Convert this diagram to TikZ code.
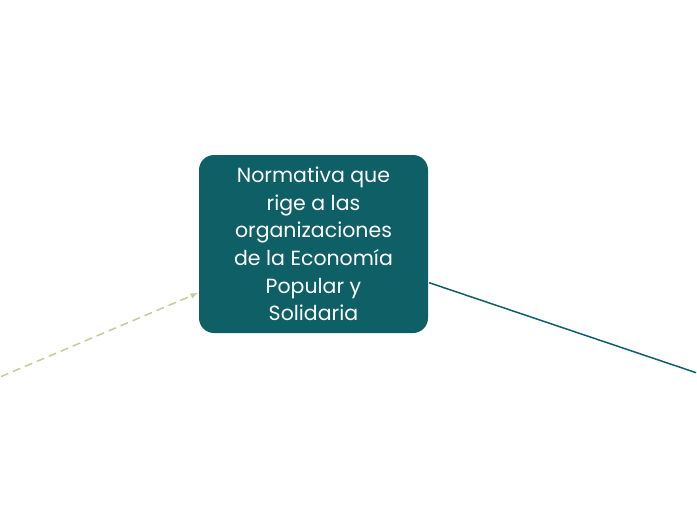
\documentclass[tikz,border=0pt]{standalone}
\usepackage{fontspec}
\setmainfont{Poppins}
\usetikzlibrary{calc, positioning, arrows}
\definecolor{hubteal}{RGB}{15,95,103}
\definecolor{linkolive}{RGB}{196,204,158}

\begin{document}
\begin{tikzpicture}[x=1pt,y=-1pt,hub/.style={fill=hubteal, rounded corners=15pt, minimum width=229pt, minimum height=178pt, text=white, align=center, font=\fontsize{20.5}{27.6}\selectfont, inner sep=0pt},link/.style={line width=1.5pt, shorten <= 1pt, shorten >= 1pt}]
  \useasboundingbox (0,0) rectangle (697,520);
  \node[hub] (norma) at (313.5,244) {Normativa que\\rige a las\\organizaciones\\de la Economía\\Popular y\\Solidaria};

  \coordinate (left) at (0,377);
  \coordinate (right) at (697,373);

  \draw[link, linkolive, dash pattern=on 8pt off 5pt, -latex] (left) -- (norma);
  \draw[link, hubteal] (norma) -- (right);
\end{tikzpicture}
\end{document}
